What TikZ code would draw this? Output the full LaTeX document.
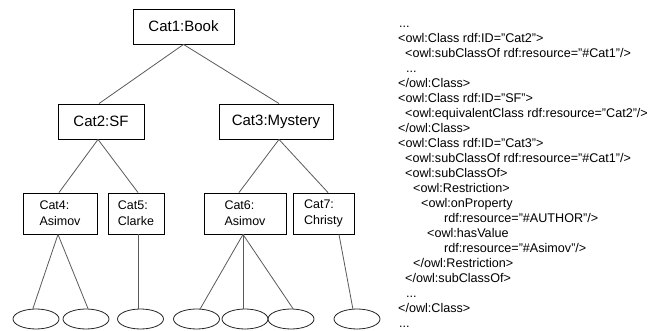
\documentclass[tikz,border=0pt]{standalone}
\usepackage{fontspec}
\setmainfont{Liberation Sans}
\usetikzlibrary{shapes.geometric}
\begin{document}
\begin{tikzpicture}[x=1pt,y=-1pt,
  big/.style={draw=black, line width=0.9pt, minimum height=35pt, inner sep=0pt, font=\fontsize{15}{18}\selectfont},
  small/.style={draw=black, line width=0.9pt, minimum height=41pt, inner sep=0pt, align=left, font=\fontsize{12.5}{16}\selectfont},
  leaf/.style={draw=black!85, line width=0.8pt, ellipse, minimum width=46pt, minimum height=20pt, inner sep=0pt},
  edge/.style={draw=black!65, line width=0.8pt},
  code/.style={anchor=base west, inner sep=0pt, font=\fontsize{12.6}{15}\selectfont}]
\useasboundingbox (0,0) rectangle (657,331);
% tree boxes
\node[big, minimum width=101pt] (c1) at (183.5,26.5) {Cat1:Book};
\node[big, minimum width=86pt] (c2) at (101,121.5) {Cat2:SF};
\node[big, minimum width=114pt] (c3) at (276,121.5) {Cat3:Mystery};
\node[small, minimum width=74pt] (c4) at (60,213.5) {Cat4:\\Asimov};
\node[small, minimum width=56pt] (c5) at (136,213.5) {Cat5:\\Clarke};
\node[small, minimum width=82pt] (c6) at (245,213.5) {Cat6:\\Asimov};
\node[small, minimum width=61pt] (c7) at (323.5,213.5) {Cat7:\\Christy};
% leaves
\node[leaf] (e1) at (36,319) {};
\node[leaf] (e2) at (86,319) {};
\node[leaf] (e3) at (140.5,319) {};
\node[leaf] (e4) at (196.5,319) {};
\node[leaf] (e5) at (245,319) {};
\node[leaf] (e6) at (291,319) {};
\node[leaf] (e7) at (357,319) {};
% connectors
\draw[edge] (c1.south) -- ([xshift=-2pt]c2.north);
\draw[edge] (c1.south) -- ([xshift=3pt]c3.north);
\draw[edge] ([xshift=-3pt]c2.south) -- ([xshift=-1pt]c4.north);
\draw[edge] ([xshift=-3pt]c2.south) -- ([xshift=2pt]c5.north);
\draw[edge] ([xshift=3pt]c3.south) -- ([xshift=-6pt]c6.north);
\draw[edge] ([xshift=3pt]c3.south) -- ([xshift=4.5pt]c7.north);
\draw[edge] ([xshift=-2pt]c4.south) -- (e1.107);
\draw[edge] ([xshift=-2pt]c4.south) -- (e2.79);
\draw[edge] (e3.104) -- (e3.104 |- c5.south);
\draw[edge] ([xshift=-2pt]c6.south) -- (e4.70);
\draw[edge] (e5.101) -- (e5.101 |- c6.south);
\draw[edge] ([xshift=-2pt]c6.south) -- (e6.79);
\draw[edge] ([xshift=15.5pt]c7.south) -- (e7.112);
% OWL code
\node[code] (t0) at (399,28) {...};
\node[code] (t1) at (398,43) {<owl:Class rdf:ID="Cat2">};
\node[code] (t2) at (405,58) {<owl:subClassOf rdf:resource="\#Cat1"/>};
\node[code] (t3) at (406,73) {...};
\node[code] (t4) at (398,88) {</owl:Class>};
\node[code] (t5) at (398,103) {<owl:Class rdf:ID="SF">};
\node[code] (t6) at (405,118) {<owl:equivalentClass rdf:resource="Cat2"/>};
\node[code] (t7) at (398,133) {</owl:Class>};
\node[code] (t8) at (398,148) {<owl:Class rdf:ID="Cat3">};
\node[code] (t9) at (405,163) {<owl:subClassOf rdf:resource="\#Cat1"/>};
\node[code] (t10) at (405,178) {<owl:subClassOf>};
\node[code] (t11) at (413,193) {<owl:Restriction>};
\node[code] (t12) at (421,208) {<owl:onProperty};
\node[code] (t13) at (444,223) {rdf:resource="\#AUTHOR"/>};
\node[code] (t14) at (427,238) {<owl:hasValue};
\node[code] (t15) at (444,253) {rdf:resource="\#Asimov"/>};
\node[code] (t16) at (413,268) {</owl:Restriction>};
\node[code] (t17) at (405,283) {</owl:subClassOf>};
\node[code] (t18) at (406,298) {...};
\node[code] (t19) at (398,313) {</owl:Class>};
\node[code] (t20) at (399,328) {...};
\end{tikzpicture}
\end{document}
